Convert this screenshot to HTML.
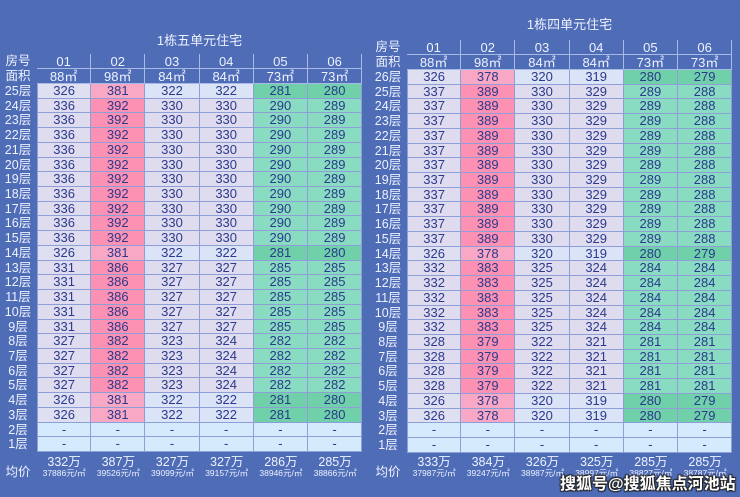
<!DOCTYPE html>
<html><head><meta charset="utf-8"><style>
body{margin:0;width:740px;height:497px;background:#4f6cb7;overflow:hidden;position:relative;font-family:"Liberation Sans","Noto Sans CJK SC",sans-serif}
.c{position:absolute;box-sizing:border-box;text-align:center;font-size:13px;color:#2b3a8c;border-right:1px solid #8d9fd6;border-bottom:1px solid #8d9fd6}
.h{color:#eef2ff;background:#4f6cb7;border:1px solid #a9b9e6;border-top:none;border-left:none}
.l{position:absolute;color:#eef2ff;font-size:12.5px;text-align:center;width:34px}
.t{position:absolute;color:#eef2ff;font-size:13px;text-align:center}
.a{position:absolute;color:#eef2ff;text-align:center;line-height:11px}
.a b{font-weight:normal;font-size:12.5px;display:block}
.a i{font-style:normal;font-size:8.5px;display:block;white-space:nowrap}
.wm{position:absolute;left:560px;top:470px;font-size:16px;font-weight:bold;color:#fff;white-space:nowrap;text-shadow:1px 1px 1px #222,-1px -1px 1px #222,1px -1px 1px #222,-1px 1px 1px #222}
</style></head><body>
<div class="t" style="left:37px;width:325px;top:30px">1栋五单元住宅</div>
<div class="t" style="left:407px;width:325px;top:14px">1栋四单元住宅</div>
<div class="wm">搜狐号@搜狐焦点河池站</div>
<script>
function build(x0,y0,floors,data,avg){
 var w=54.2,rh=14.72,html='';
 var cols=['01','02','03','04','05','06'],areas=['88㎡','98㎡','84㎡','84㎡','73㎡','73㎡'];
 html+='<div class="l" style="left:'+(x0-36)+'px;top:'+(y0)+'px;line-height:15px">房号</div>';
 html+='<div class="l" style="left:'+(x0-36)+'px;top:'+(y0+15)+'px;line-height:15px">面积</div>';
 html+='<div style="position:absolute;left:'+x0+'px;top:'+y0+'px;width:'+(w*6)+'px;height:30px;border-top:1px solid #a9b9e6;border-left:1px solid #a9b9e6;box-sizing:border-box"></div>';
 for(var j=0;j<6;j++){
  html+='<div class="c h" style="left:'+(x0+j*w)+'px;top:'+y0+'px;width:'+w+'px;height:15px;line-height:15px">'+cols[j]+'</div>';
  html+='<div class="c h" style="left:'+(x0+j*w)+'px;top:'+(y0+15)+'px;width:'+w+'px;height:15px;line-height:15px">'+areas[j]+'</div>';
 }
 var ys=y0+30;
 for(var i=0;i<floors.length;i++){
  var f=floors[i],r=data[i],y=ys+i*rh;
  html+='<div class="l" style="left:'+(x0-36)+'px;top:'+y+'px;line-height:'+rh+'px">'+f+'层</div>';
  for(var j=0;j<6;j++){
   var bg;
   if(!r){bg='#d3ebfd';}
   else{var low=r[5]==data[data.length-3][5];
    if(j==1)bg=low?'#f8a7c5':'#fc91b3';
    else if(j>=4)bg=low?'#6fd0a9':'#89dcc1';
    else if(j==0)bg=low?'#dfdff2':'#e0dcef';
    else bg=low?'#dbe3f6':'#e0dcef';}
   html+='<div class="c" style="left:'+(x0+j*w)+'px;top:'+y+'px;width:'+w+'px;height:'+rh+'px;line-height:'+rh+'px;background:'+bg+(j==0?';border-left:1px solid #8d9fd6':'')+'">'+(r?r[j]:'-')+'</div>';
  }
 }
 var ya=452+5;
 html+='<div class="l" style="left:'+(x0-36)+'px;top:'+(ya+4)+'px">均价</div>';
 for(var j=0;j<6;j++)html+='<div class="a" style="left:'+(x0+j*w)+'px;top:'+ya+'px;width:'+w+'px"><b>'+avg[j][0]+'万</b><i>'+avg[j][1]+'元/㎡</i></div>';
 document.body.insertAdjacentHTML('beforeend',html);
}
function mk(n,top,rows){var f=[],d=[];for(var i=n;i>=1;i--){f.push(i);d.push(rows(i));}return [f,d];}
var A=[326,381,322,322,281,280],B=[336,392,330,330,290,289],C=[331,386,327,327,285,285],D=[327,382,323,324,282,282];
var L=mk(25,0,function(i){if(i<=2)return null;if(i==25||i==14||i<=4)return A;if(i>=15)return B;if(i>=9)return C;return D;});
build(37,54,L[0],L[1],[[332,37886],[387,39526],[327,39099],[327,39157],[286,38946],[285,38866]]);
var A2=[326,378,320,319,280,279],B2=[337,389,330,329,289,288],C2=[332,383,325,324,284,284],D2=[328,379,322,321,281,281];
var R=mk(26,0,function(i){if(i<=2)return null;if(i==26||i==14||i<=4)return A2;if(i>=15)return B2;if(i>=9)return C2;return D2;});
build(407,40,R[0],R[1],[[333,37987],[384,39247],[326,38987],[325,38997],[285,38827],[285,38787]]);
var wm=document.querySelector('.wm');document.body.appendChild(wm);
</script>
</body></html>
